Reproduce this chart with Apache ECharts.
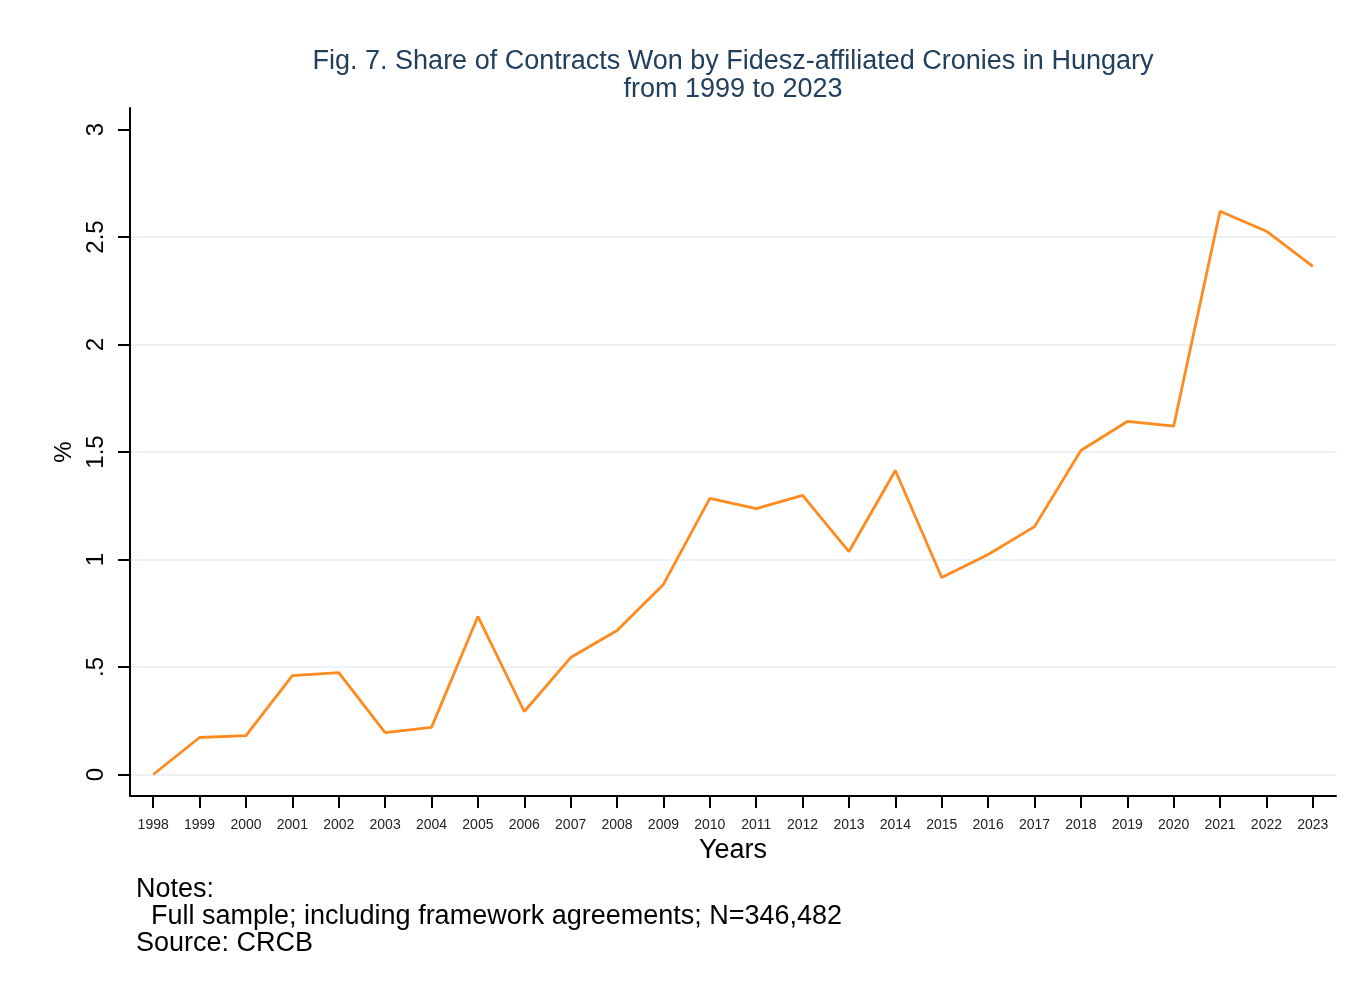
<!DOCTYPE html>
<html>
<head>
<meta charset="utf-8">
<title>Fig. 7</title>
<script src="https://cdn.jsdelivr.net/npm/echarts@6/dist/echarts.min.js"></script>
<style>
  html, body { margin: 0; padding: 0; background: #fff; }
  #chart { width: 1358px; height: 990px; }
</style>
</head>
<body>
<div id="chart"></div>
<script>
// values
const years = ['1998', '1999', '2000', '2001', '2002', '2003', '2004', '2005', '2006', '2007',
  '2008', '2009', '2010', '2011', '2012', '2013', '2014', '2015', '2016', '2017',
  '2018', '2019', '2020', '2021', '2022', '2023']
const shares = [0, 0.172, 0.181, 0.46, 0.474, 0.195, 0.219, 0.735, 0.293, 0.544,
  0.67, 0.884, 1.284, 1.237, 1.298, 1.037, 1.414, 0.916, 1.023, 1.153,
  1.507, 1.642, 1.62, 2.62, 2.527, 2.363]
const yTicks = [0, 0.5, 1, 1.5, 2, 2.5, 3]
const notes = ['Notes:', '  Full sample; including framework agreements; N=346,482', 'Source: CRCB']

const font = 'Liberation Sans, Arial, sans-serif'

const fmtTick = v => {
  if (v === 0) return '0'
  const s = String(v)
  return s.startsWith('0.') ? s.slice(1) : s
}

const chart = echarts.init(document.getElementById('chart'))

const option = {
  backgroundColor: '#fff',
  animation: false,
  title: {
    text: 'Fig. 7. Share of Contracts Won by Fidesz-affiliated Cronies in Hungary\nfrom 1999 to 2023',
    left: 728,
    top: 43,
    textAlign: 'center',
    textStyle: {
      fontFamily: font,
      fontSize: 27,
      fontWeight: 'normal',
      color: '#22405e',
      lineHeight: 28
    }
  },
  grid: {
    left: 130,
    right: 22,
    top: 108,
    bottom: 194
  },
  xAxis: {
    type: 'category',
    data: years,
    boundaryGap: true,
    name: 'Years',
    nameLocation: 'middle',
    nameGap: 40,
    nameTextStyle: {
      fontFamily: font,
      fontSize: 27,
      color: '#000'
    },
    axisLine: { onZero: false, lineStyle: { color: '#000', width: 2 } },
    axisTick: {
      show: true,
      alignWithLabel: true,
      length: 12,
      lineStyle: { color: '#000', width: 2 }
    },
    axisLabel: {
      interval: 0,
      margin: 22,
      fontFamily: font,
      fontSize: 14,
      color: '#222'
    },
    splitLine: { show: false }
  },
  yAxis: {
    type: 'value',
    min: -0.1,
    max: 3.1,
    name: '%',
    nameLocation: 'middle',
    nameRotate: 90,
    nameGap: 54,
    nameTextStyle: {
      fontFamily: font,
      fontSize: 24,
      color: '#000'
    },
    axisLine: { show: true, lineStyle: { color: '#000', width: 2 } },
    axisTick: {
      show: true,
      length: 12,
      customValues: yTicks,
      lineStyle: { color: '#000', width: 2 }
    },
    axisLabel: {
      customValues: yTicks,
      rotate: 90,
      margin: 22,
      fontFamily: font,
      fontSize: 24,
      color: '#000',
      formatter: fmtTick
    },
    splitLine: {
      show: true,
      lineStyle: {
        color: ['#eaf2f3', '#eaf2f3', '#eaf2f3', '#eaf2f3', '#eaf2f3', '#eaf2f3', 'rgba(0,0,0,0)'],
        width: 2
      }
    }
  },
  series: [
    {
      type: 'line',
      data: shares,
      symbol: 'none',
      lineStyle: { color: '#ff8a1f', width: 2.8 },
      z: 3
    }
  ],
  graphic: notes.map((t, i) => ({
    type: 'text',
    left: 136,
    top: 876 + i * 27,
    style: {
      text: t,
      fontFamily: font,
      fontSize: 27,
      fill: '#000'
    }
  }))
}

chart.setOption(option)
</script>
</body>
</html>
